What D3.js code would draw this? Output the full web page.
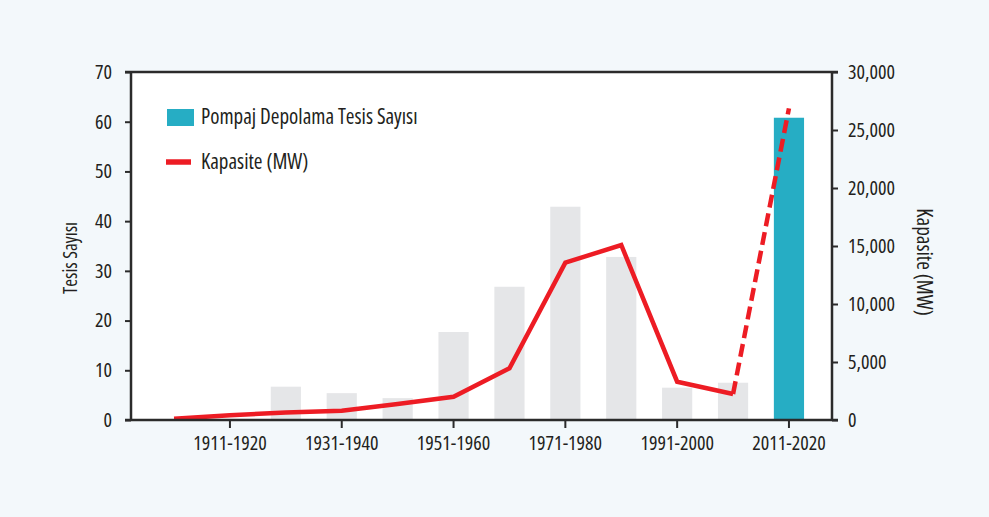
<!DOCTYPE html>
<html>
<head>
<meta charset="utf-8">
<script src="https://cdn.jsdelivr.net/npm/d3@7"></script>
<style>
  body { margin: 0; background: #f3f8fb; }
  svg text { font-family: "Open Sans", "DejaVu Sans Condensed", sans-serif; font-stretch: 75%; fill: #231f20; }
</style>
</head>
<body>
<svg id="chart_root" width="989" height="517"></svg>
<script>
// decades on the x axis
var categories = ["1901-1910", "1911-1920", "1921-1930", "1931-1940", "1941-1950", "1951-1960",
                  "1961-1970", "1971-1980", "1981-1990", "1991-2000", "2001-2010", "2011-2020"];
// bar values (left axis)
var tesisSayisi = [0, 0, 6.7, 5.4, 4.4, 17.7, 26.8, 42.9, 32.8, 6.5, 7.5, 60.8];
// line values (right axis)
var kapasiteMW = [100, 400, 650, 800, 1380, 2000, 4460, 13560, 15085, 3300, 2240, 26870];
var xTickLabels = ["1911-1920", "1931-1940", "1951-1960", "1971-1980", "1991-2000", "2011-2020"];
var leftTicks = [0, 10, 20, 30, 40, 50, 60, 70];
var rightTicks = [0, 5000, 10000, 15000, 20000, 25000, 30000];

var margin_left = 131, margin_right = 157, margin_top = 72, margin_bottom = 97;
var total_width = 989, total_height = 517;
var width = total_width - margin_left - margin_right;
var height = total_height - margin_top - margin_bottom;
var axis_colour = "#2b2b2b";

var svg = d3.select("#chart_root");
svg.append("rect").attr("width", total_width).attr("height", total_height).attr("fill", "#f3f8fb");

var g = svg.append("g")
  .attr("transform", "translate(" + margin_left + "," + margin_top + ")");

// white plot area
g.append("rect").attr("width", width).attr("height", height).attr("fill", "#ffffff");

var x = d3.scaleBand()
  .domain(categories)
  .range([0, width])
  .paddingInner(0.46)
  .paddingOuter(0.5);

var yLeft = d3.scaleLinear().domain([0, 70]).range([height, 0]);
var yRight = d3.scaleLinear().domain([0, 30000]).range([height, 0]);

// bars
g.selectAll(".bar")
  .data(categories)
  .enter()
  .append("rect")
    .attr("class", "bar")
    .attr("x", function(d) { return x(d); })
    .attr("width", x.bandwidth())
    .attr("y", function(d, i) { return yLeft(tesisSayisi[i]); })
    .attr("height", function(d, i) { return height - yLeft(tesisSayisi[i]); })
    .attr("fill", function(d, i) { return i === categories.length - 1 ? "#26adc4" : "#e5e6e8"; });

// line: solid up to 2001-2010, dashed to 2011-2020
var pts = categories.map(function(c, i) { return [x(c) + x.bandwidth() / 2, yRight(kapasiteMW[i])]; });
var line = d3.line();
g.append("path")
  .datum(pts.slice(0, pts.length - 1))
  .attr("d", line)
  .attr("fill", "none")
  .attr("stroke", "#ed1c24")
  .attr("stroke-width", 4.5)
  .attr("stroke-linejoin", "miter");
g.append("path")
  .datum(pts.slice(pts.length - 2))
  .attr("d", line)
  .attr("fill", "none")
  .attr("stroke", "#ed1c24")
  .attr("stroke-width", 4.5)
  .attr("stroke-dasharray", "13,6");

// axes
var leftAxis = g.append("g")
  .attr("class", "y-axis-left")
  .call(d3.axisLeft(yLeft).tickValues(leftTicks).tickSize(6).tickPadding(13));
var rightAxis = g.append("g")
  .attr("class", "y-axis-right")
  .attr("transform", "translate(" + width + ",0)")
  .call(d3.axisRight(yRight).tickValues(rightTicks).tickSize(6).tickPadding(10).tickFormat(d3.format(",")));
var xAxis = g.append("g")
  .attr("class", "x-axis")
  .attr("transform", "translate(0," + height + ")")
  .call(d3.axisBottom(x).tickValues(xTickLabels).tickSize(8).tickPadding(8).tickSizeOuter(0));

// top border
g.append("line")
  .attr("x1", -6).attr("x2", width + 6)
  .attr("y1", 0).attr("y2", 0)
  .attr("stroke", axis_colour).attr("stroke-width", 2.5);

// Recolour the axes
svg.selectAll(".domain").attr("stroke", axis_colour).attr("stroke-width", 2.5);
svg.selectAll(".tick line").attr("stroke", axis_colour).attr("stroke-width", 2);
svg.selectAll(".tick text")
  .attr("font-size", 20)
  .attr("font-weight", 500)
  .attr("fill", "#231f20")
  .attr("font-family", null);
rightAxis.selectAll(".tick text").style("font-stretch", "87.5%");
xAxis.select(".domain").attr("d", "M-6,0H" + (width + 6));
leftAxis.select(".domain").attr("d", "M0,0V" + height);
rightAxis.select(".domain").attr("d", "M0,0V" + height);

// axis titles
svg.append("text")
  .attr("transform", "translate(77,258) rotate(-90)")
  .attr("text-anchor", "middle")
  .attr("font-size", 19)
  .text("Tesis Sayısı");
svg.append("text")
  .attr("transform", "translate(917,262) rotate(90)")
  .attr("text-anchor", "middle")
  .attr("font-size", 21)
  .text("Kapasite (MW)");

// legend
var legend = svg.append("g");
legend.append("rect")
  .attr("x", 167).attr("y", 109).attr("width", 27).attr("height", 17)
  .attr("fill", "#26adc4");
legend.append("text")
  .attr("x", 201).attr("y", 124)
  .attr("font-size", 21)
  .attr("font-weight", 500)
  .text("Pompaj Depolama Tesis Sayısı");
legend.append("line")
  .attr("x1", 166).attr("x2", 191).attr("y1", 162).attr("y2", 162)
  .attr("stroke", "#ed1c24").attr("stroke-width", 5.5);
legend.append("text")
  .attr("x", 201).attr("y", 169)
  .attr("font-size", 21)
  .attr("font-weight", 500)
  .text("Kapasite (MW)");
</script>
</body>
</html>
